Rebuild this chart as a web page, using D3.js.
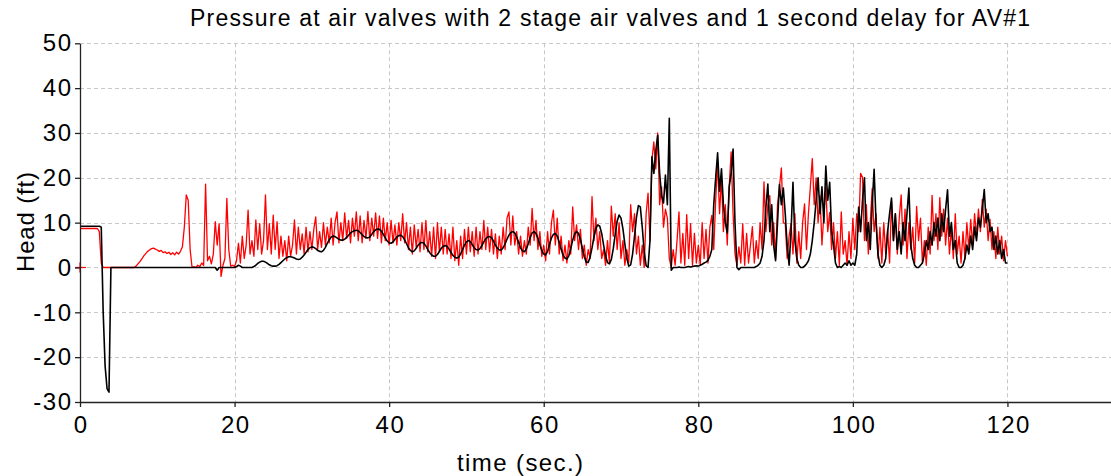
<!DOCTYPE html>
<html><head><meta charset="utf-8">
<script src="https://cdn.jsdelivr.net/npm/d3@7"></script>
<style>body{margin:0;background:#fff;} text{font-family:Arial,"Liberation Sans",sans-serif;}</style>
</head><body><svg id="c" width="1111" height="476"></svg>
<script>
const titleText = "Pressure at air valves with 2 stage air valves and 1 second delay for AV#1";
const xLabel = "time (sec.)";
const yLabel = "Head (ft)";
const xTicks = [0, 20, 40, 60, 80, 100, 120];
const yTicks = [-30, -20, -10, 0, 10, 20, 30, 40, 50];
const sampleStep = 0.25; // seconds between samples

// red series, one line per second (t, t+.25, t+.5, t+.75)
const redHead = [
/*0*/ 8.7,8.7,8.7,8.7, /*1*/ 8.7,8.7,8.7,8.7, /*2*/ 8.7,8.7,8.0,1,
/*3*/ 0,0,0,0, /*4*/ 0,0,0,0, /*5*/ 0,0,0,0, /*6*/ 0,0,0,0,
/*7*/ 0,0.3,0.8,1.3, /*8*/ 1.9,2.6,3.1,3.6, /*9*/ 3.9,4.2,4.3,4.1,
/*10*/ 3.9,3.6,3.8,3.3, /*11*/ 3.5,3.1,3.4,2.9, /*12*/ 3.3,2.8,3.4,3.0,
/*13*/ 3.6,4.6,9,16.2, /*14*/ 15.0,4,0,0.2, /*15*/ 0,0.5,0.2,1.0,
/*16*/ 0.5,18.6,1.5,2.5, /*17*/ 0.8,3.0,10.2,5, /*18*/ 9.8,-2,0.5,2,
/*19*/ 15.4,4,0.3,0.5, /*20*/ 0.2,1.5,5.4,1, /*21*/ 7,2,5,12.8,
/*22*/ 3,6,2.5,10.6, /*23*/ 4,9.8,3,6, /*24*/ 16.2,4,9.8,3,
/*25*/ 11.7,4,10.2,2, /*26*/ 7,2.5,6,1.5, /*27*/ 7,2.5,5,10.6,
/*28*/ 3,9,4,7.5, /*29*/ 3,9,3.5,8, /*30*/ 4,8.5,11.3,4,
/*31*/ 8,4.5,10,5, /*32*/ 9,5.5,11,5, /*33*/ 10,12.4,5.5,10,
/*34*/ 6,12.2,6.5,10.5, /*35*/ 5.5,11,7,12.4, /*36*/ 6,11.5,5.5,10.5,
/*37*/ 6.5,12.5,6,11, /*38*/ 7,12.2,6.5,11.5, /*39*/ 5.5,11,6,10,
/*40*/ 5,10.5,5.5,9.5, /*41*/ 5,10,6,12, /*42*/ 5.5,10,4,9,
/*43*/ 3,9.5,4.5,8.5, /*44*/ 3.5,10,4,10.5, /*45*/ 3.5,8,2.5,9,
/*46*/ 2,10,3.5,9, /*47*/ 3,8.5,3,7.5, /*48*/ 2,9,1.5,6,
/*49*/ 0.5,7,2,8.5, /*50*/ 3,9,3.5,8, /*51*/ 2.5,9,3,8,
/*52*/ 4,10.5,4,9, /*53*/ 3.5,8.5,3,7.5, /*54*/ 2,7,3,9,
/*55*/ 4,11,12.4,5, /*56*/ 11.5,5,8,3, /*57*/ 7,2.5,6,3,
/*58*/ 9,5,13.2,6, /*59*/ 10.5,4,8,2.5, /*60*/ 5,1.5,8,3,
/*61*/ 10,12.8,5,11, /*62*/ 3,7,1.5,5, /*63*/ 1,6,3,13.5,
/*64*/ 6,9.5,4,8.5, /*65*/ 2,5,0.5,4, /*66*/ 2,15.8,6,11,
/*67*/ 4,8,2,4, /*68*/ 0.5,6,1,13.7, /*69*/ 7,12,4,10,
/*70*/ 2,6,0.5,4, /*71*/ 1,14,8,12, /*72*/ 3,7,0.5,5,
/*73*/ 0,12,16.6,6, /*74*/ 24,28,22,30, /*75*/ 14,18,9,13,
/*76*/ 11,2,0,4, /*77*/ 0.5,6,12.4,1, /*78*/ 7.6,0.5,11.8,2,
/*79*/ 9.8,0.5,7.6,1, /*80*/ 5,0.5,10,2, /*81*/ 8.5,1,9,11.6,
/*82*/ 4,15,23.6,12, /*83*/ 20,8,14,5, /*84*/ 18,25.8,12,3,
/*85*/ 0.5,4.6,1,9.8, /*86*/ 0.5,7.6,1,5, /*87*/ 9.1,1,6,2,
/*88*/ 10,4,19.1,8, /*89*/ 14,16,5,10, /*90*/ 2,14,18,22.2,
/*91*/ 10,9.8,2,7, /*92*/ 9.8,3,12,1, /*93*/ 8,2,10,14.2,
/*94*/ 4,12,18,24.3, /*95*/ 14,20,10,16, /*96*/ 5,12,18,8,
/*97*/ 12.3,4,10,2, /*98*/ 8,0.5,12.4,3, /*99*/ 6,0.5,8,2,
/*100*/ 11,4,12,8, /*101*/ 21,20.1,6,14, /*102*/ 3,10,17.6,8,
/*103*/ 12,2,9,1, /*104*/ 10,3,8.5,1, /*105*/ 14.8,6,12,3,
/*106*/ 11,16.2,5,13, /*107*/ 2,10,4,9, /*108*/ 1,13.6,6,11,
/*109*/ 1,6,0.5,9, /*110*/ 3,16.1,6,12, /*111*/ 4,15.6,7,13,
/*112*/ 5,11,3,9, /*113*/ 2,12,3,7, /*114*/ 1,8,2,10,
/*115*/ 4,10.7,5,12, /*116*/ 7,13,8,15.2, /*117*/ 9,13,6,10.7,
/*118*/ 4,8,2,9, /*119*/ 3,7,1.5,6, /*120*/ 2.5
];

// black series, one line per second (t, t+.25, t+.5, t+.75)
const blackHead = [
/*0*/ 9.2,9.2,9.2,9.2, /*1*/ 9.2,9.2,9.2,9.2, /*2*/ 9.2,9.2,9.2,9.0,
/*3*/ -10,-22,-27,-27.8, /*4*/ 0,0,0,0, /*5*/ 0,0,0,0,
/*6*/ 0,0,0,0, /*7*/ 0,0,0,0, /*8*/ 0,0,0,0, /*9*/ 0,0,0,0,
/*10*/ 0,0,0,0, /*11*/ 0,0,0,0, /*12*/ 0,0,0,0, /*13*/ 0,0,0,0,
/*14*/ 0,0,0,0, /*15*/ 0,0,0,0, /*16*/ 0,0,0,0, /*17*/ 0,0,0,-0.6,
/*18*/ 0,0,0,0, /*19*/ 0,0,0,0, /*20*/ 0,0.2,0.5,0.3, /*21*/ 0,0,0,0,
/*22*/ 0,0,0.2,0.5, /*23*/ 0.9,1.2,1.4,1.4, /*24*/ 1.2,0.9,0.6,0.4,
/*25*/ 0.3,0.3,0.4,0.7, /*26*/ 1.1,1.5,1.9,2.2, /*27*/ 2.4,2.4,2.3,2.1,
/*28*/ 1.9,1.8,1.9,2.3, /*29*/ 2.8,3.4,4.0,4.4, /*30*/ 4.6,4.5,4.2,3.8,
/*31*/ 3.6,3.5,3.8,4.5, /*32*/ 5.4,6.2,6.8,7.0, /*33*/ 6.9,6.6,6.3,6.1,
/*34*/ 6.1,6.3,6.7,7.2, /*35*/ 7.7,8.0,8.2,8.3, /*36*/ 8.2,7.8,7.3,6.9,
/*37*/ 6.7,6.6,6.8,7.4, /*38*/ 8.0,8.4,8.6,8.5, /*39*/ 8.1,7.4,6.6,5.9,
/*40*/ 5.5,5.4,5.7,6.3, /*41*/ 6.8,7.1,7.2,6.9, /*42*/ 6.2,5.3,4.4,3.8,
/*43*/ 3.5,3.7,4.3,5.0, /*44*/ 5.4,5.6,5.4,4.8, /*45*/ 4.0,3.3,2.8,2.5,
/*46*/ 2.5,2.9,3.6,4.3, /*47*/ 4.7,4.9,4.7,4.1, /*48*/ 3.4,2.7,2.3,2.1,
/*49*/ 2.3,3.0,4.0,5.0, /*50*/ 5.7,6.0,5.8,5.1, /*51*/ 4.4,4.0,3.9,4.2,
/*52*/ 4.9,5.7,6.4,6.8, /*53*/ 6.9,6.6,5.9,5.0, /*54*/ 4.3,3.9,3.9,4.4,
/*55*/ 5.3,6.3,7.2,7.8, /*56*/ 8.0,7.7,6.8,5.6, /*57*/ 4.4,3.7,3.5,4.1,
/*58*/ 5.3,6.7,7.7,8.0, /*59*/ 7.6,6.5,5.1,3.8, /*60*/ 3.0,2.8,3.6,5.2,
/*61*/ 6.6,7.4,7.6,7.0, /*62*/ 5.7,4.1,2.8,2.1, /*63*/ 1.9,2.6,4.2,6.1,
/*64*/ 7.5,8.0,7.6,6.2, /*65*/ 4.3,2.4,1.2,1.1, /*66*/ 2.3,4.4,6.8,8.7,
/*67*/ 9.5,9.2,7.6,5.0, /*68*/ 2.6,1.1,0.8,1.8, /*69*/ 4.2,7.4,10.3,11.7,
/*70*/ 11.0,8.6,5.2,2.1, /*71*/ 0.3,0.6,3.0,7.0, /*72*/ 11.2,13.8,13.5,9.0,
/*73*/ 3.5,0.4,0,6, /*74*/ 24.7,21,26,29.5, /*75*/ 21,16,14.4,20.6,
/*76*/ 14,33.3,-0.6,0, /*77*/ 0,0,0.1,0, /*78*/ 0,0,0.1,0.2,
/*79*/ 0.1,0.2,0.3,0.4, /*80*/ 0.3,0.5,0.7,1.0, /*81*/ 1.2,1.6,2.5,4,
/*82*/ 14,20,25.6,17, /*83*/ 22,14,10,7.7, /*84*/ 18,21,26.4,10,
/*85*/ 0,-0.5,0,0, /*86*/ 0,0,0,0, /*87*/ 0,0,0.2,0.5,
/*88*/ 1,2.5,6,13.5, /*89*/ 18.6,8,14,5, /*90*/ 1.5,10,18.5,14,
/*91*/ 17.7,12,5,0.5, /*92*/ 8,19,6,2, /*93*/ 0.5,0,0,0.3,
/*94*/ 0.8,1.5,3,6, /*95*/ 10,15,20,12, /*96*/ 18,10,22.6,15,
/*97*/ 19,8,5,1, /*98*/ 0,0.2,0,0.5, /*99*/ 1,0.5,1.5,0.5,
/*100*/ 1,0.5,3,13.5, /*101*/ 8,15,20,6, /*102*/ 10,4,14,21.9,
/*103*/ 10,3,0.5,0, /*104*/ 0.5,2,8,12, /*105*/ 15.5,6,12,4,
/*106*/ 8,3,10,6, /*107*/ 12,17.7,5,2, /*108*/ 0.5,0,0,0.5,
/*109*/ 1,3,6,4, /*110*/ 8,5,10,7, /*111*/ 11,6,12,8,
/*112*/ 13,17.3,7,10, /*113*/ 4,6,1,0, /*114*/ 0,0.5,2,5,
/*115*/ 3,7,4,9, /*116*/ 6,11,9,13, /*117*/ 17.4,10,12,8,
/*118*/ 9,4,7,3, /*119*/ 6,2,4,1, /*120*/ 1
];

const svg = d3.select("#c");
const x = d3.scaleLinear().domain([0, 133.4]).range([80, 1111]);
const y = d3.scaleLinear().domain([-30, 50]).range([402, 43.3]);

// grid
const grid = svg.append("g").attr("stroke", "#c8c8c8").attr("stroke-width", 1).attr("stroke-dasharray", "4,3");
grid.selectAll(".gx").data(xTicks.filter(d => d > 0)).join("line")
  .attr("x1", d => Math.round(x(d)) + 0.5).attr("x2", d => Math.round(x(d)) + 0.5)
  .attr("y1", y(50)).attr("y2", y(-30));
grid.selectAll(".gy").data(yTicks.filter(d => d > -30)).join("line")
  .attr("y1", d => Math.round(y(d)) + 0.5).attr("y2", d => Math.round(y(d)) + 0.5)
  .attr("x1", x(0)).attr("x2", 1111);

const line = d3.line().x((d, i) => x(i * sampleStep)).y(d => y(d));
svg.append("path").datum(redHead).attr("d", line)
  .attr("fill", "none").attr("stroke", "#ff0000").attr("stroke-width", 1.3).attr("stroke-linejoin", "round");
svg.append("path").datum(blackHead).attr("d", line)
  .attr("fill", "none").attr("stroke", "#000").attr("stroke-width", 1.6).attr("stroke-linejoin", "round");

// red start marker
const m = svg.append("g").attr("stroke", "#ff0000").attr("stroke-width", 1.2);
m.append("line").attr("x1", x(0) - 5).attr("x2", x(0) + 6).attr("y1", y(0)).attr("y2", y(0));
m.append("line").attr("x1", x(0)).attr("x2", x(0)).attr("y1", y(0) - 5).attr("y2", y(0) + 5);

// axes
const fmt = d => String(d);
const ax = svg.append("g").attr("transform", `translate(0,${y(-30)})`)
  .call(d3.axisBottom(x).tickValues(xTicks).tickFormat(fmt).tickSize(5).tickSizeOuter(0).tickPadding(9));
const ay = svg.append("g").attr("transform", `translate(${x(0)},0)`)
  .call(d3.axisLeft(y).tickValues(yTicks).tickFormat(fmt).tickSize(5).tickSizeOuter(0).tickPadding(2.5));
[ax, ay].forEach(g => {
  g.selectAll("path,line").attr("stroke", "#222").attr("stroke-width", 1.3);
  g.selectAll("text").attr("font-size", 24).attr("fill", "#000").attr("letter-spacing", 1.5)
    .attr("font-family", "Arial, 'Liberation Sans', sans-serif");
});
ax.selectAll("text").attr("dx", 0.75);

svg.append("text").attr("x", 190).attr("y", 26)
  .attr("font-size", 23).attr("textLength", 840).attr("lengthAdjust", "spacing").text(titleText);
svg.append("text").attr("x", 457).attr("y", 471)
  .attr("font-size", 24).attr("textLength", 126).attr("lengthAdjust", "spacing").text(xLabel);
svg.append("text").attr("transform", `translate(34,272) rotate(-90)`)
  .attr("font-size", 24).attr("textLength", 100).attr("lengthAdjust", "spacing").text(yLabel);
</script>
</body></html>
